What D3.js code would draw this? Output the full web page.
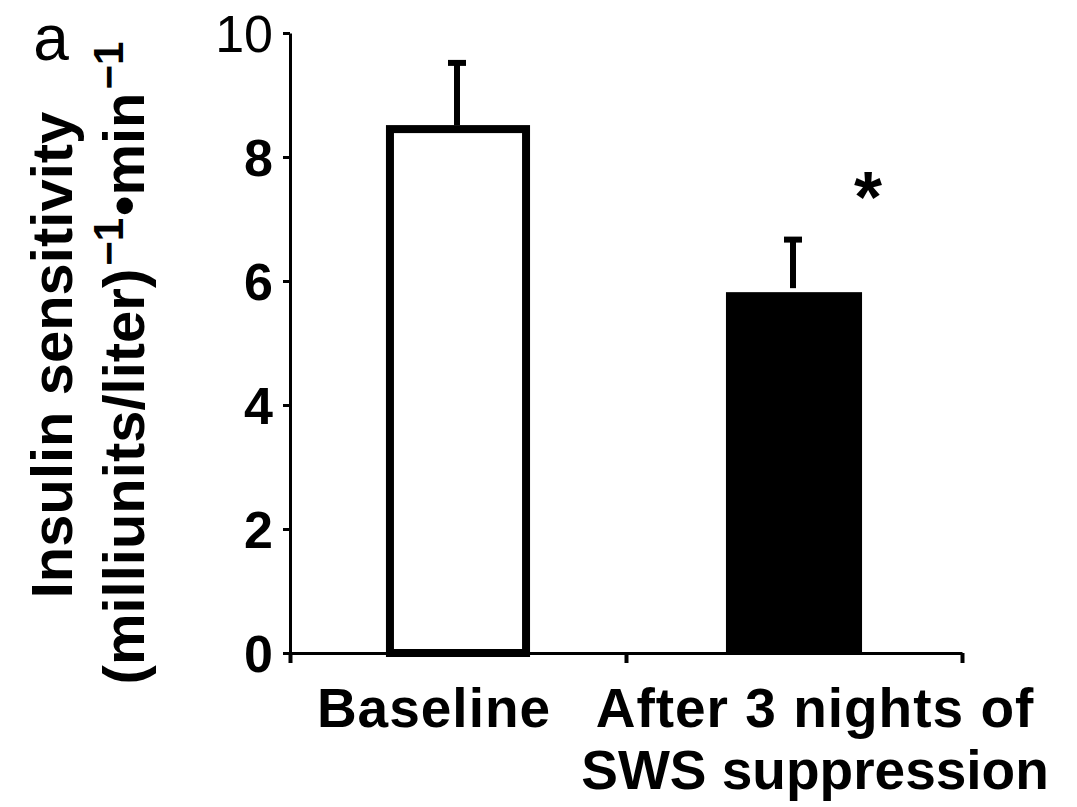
<!DOCTYPE html>
<html>
<head>
<meta charset="utf-8">
<script src="https://cdn.jsdelivr.net/npm/d3@7"></script>
<style>
  body { margin: 0; background: white; }
  text { font-family: "Liberation Sans", Arial, sans-serif; }
</style>
</head>
<body>
<svg id="chart" width="1077" height="807"></svg>
<script>
// data
const categories = ["Baseline", "After 3 nights of\nSWS suppression"];
const means = [8.45, 5.82];
const errors = [1.1, 0.88];
const fills = ["white", "black"];
const yTicks = [0, 2, 4, 6, 8, 10];

const svg = d3.select("#chart");

const X0 = 290, X1 = 962;
const Y0 = 653, Y1 = 33;
const BAR_W = 0.405;

let x = d3.scaleLinear().domain([0, categories.length]).range([X0, X1]);
let y = d3.scaleLinear().domain([0, 10]).range([Y0, Y1]);

// bars
svg.append("g").selectAll("rect")
    .data(means)
    .enter()
    .append("rect")
        .attr("x", (d, i) => x(i + 0.5 - BAR_W / 2))
        .attr("width", x(BAR_W) - x(0))
        .attr("y", d => y(d))
        .attr("height", d => y(0) - y(d))
        .style("fill", (d, i) => fills[i])
        .style("stroke", "black")
        .style("stroke-width", (d, i) => i === 0 ? 8 : 0);

// error bars, upper half only
let err = svg.append("g").selectAll("g")
    .data(means)
    .enter()
    .append("g");

err.append("line")
    .attr("x1", (d, i) => x(i + 0.5) - 1)
    .attr("x2", (d, i) => x(i + 0.5) - 1)
    .attr("y1", d => y(d) - 4)
    .attr("y2", (d, i) => y(d + errors[i]))
    .style("stroke", "black")
    .style("stroke-width", 6);

err.append("line")
    .attr("x1", (d, i) => x(i + 0.5) - 10)
    .attr("x2", (d, i) => x(i + 0.5) + 8)
    .attr("y1", (d, i) => y(d + errors[i]) + 2)
    .attr("y2", (d, i) => y(d + errors[i]) + 2)
    .style("stroke", "black")
    .style("stroke-width", 6);

// significance star above the second bar
svg.append("text")
    .attr("x", x(1.72))
    .attr("y", 222)
    .attr("text-anchor", "middle")
    .style("font-size", "72px")
    .style("font-weight", "bold")
    .text("*");

// y axis
let yAxis = svg.append("g")
    .attr("transform", "translate(" + X0 + ",0)")
    .call(d3.axisLeft(y).tickValues(yTicks).tickSize(7).tickSizeOuter(0).tickPadding(10));

yAxis.select(".domain").style("stroke-width", 3);
yAxis.selectAll(".tick line").style("stroke-width", 3);
yAxis.selectAll(".tick text")
    .style("font-size", "52px")
    .style("font-weight", "bold")
    .style("font-family", "'Liberation Sans', Arial, sans-serif")
    .attr("dy", "0.36em");
yAxis.selectAll(".tick").filter(d => d === 10).select("text").style("font-weight", "normal");

// x axis with ticks at the category boundaries
let xAxis = svg.append("g")
    .attr("transform", "translate(0," + Y0 + ")")
    .call(d3.axisBottom(x).ticks(categories.length).tickSize(10).tickSizeOuter(0).tickFormat(""));

xAxis.select(".domain").style("stroke-width", 3);
xAxis.selectAll(".tick line").style("stroke-width", 4);

// category labels
const labelShift = [-24, 21];
svg.append("g").selectAll("text")
    .data(categories)
    .enter()
    .append("text")
        .attr("x", (d, i) => x(i + 0.5) + labelShift[i])
        .attr("y", 727)
        .attr("text-anchor", "middle")
        .style("font-size", "55px")
        .style("font-weight", "bold")
        .each(function (d, i) {
            let lines = d.split("\n");
            let t = d3.select(this);
            lines.forEach((line, k) => {
                t.append("tspan")
                    .attr("x", x(i + 0.5) + labelShift[i])
                    .attr("dy", k === 0 ? 0 : 62)
                    .attr("letter-spacing", k === 0 ? "1px" : "0px")
                    .text(line);
            });
        });

// y axis title, two lines
let title = svg.append("g")
    .attr("transform", "translate(0,355) rotate(-90)");

title.append("text")
    .attr("x", 0)
    .attr("y", 72)
    .attr("text-anchor", "middle")
    .style("font-size", "58px")
    .style("font-weight", "bold")
    .text("Insulin sensitivity");

let unit = title.append("text")
    .attr("x", -8)
    .attr("y", 144)
    .attr("text-anchor", "middle")
    .style("font-size", "58px")
    .style("font-weight", "bold");

unit.append("tspan").text("(milliunits/liter)");
unit.append("tspan").attr("dx", 3).attr("dy", -21).style("font-size", "42px").text("\u22121");
unit.append("tspan").attr("dx", 2).attr("dy", 21).text("\u2022min");
unit.append("tspan").attr("dx", 3).attr("dy", -21).style("font-size", "42px").text("\u22121");

// panel letter
svg.append("text")
    .attr("x", 51)
    .attr("y", 60)
    .attr("text-anchor", "middle")
    .style("font-size", "64px")
    .text("a");
</script>
</body>
</html>
